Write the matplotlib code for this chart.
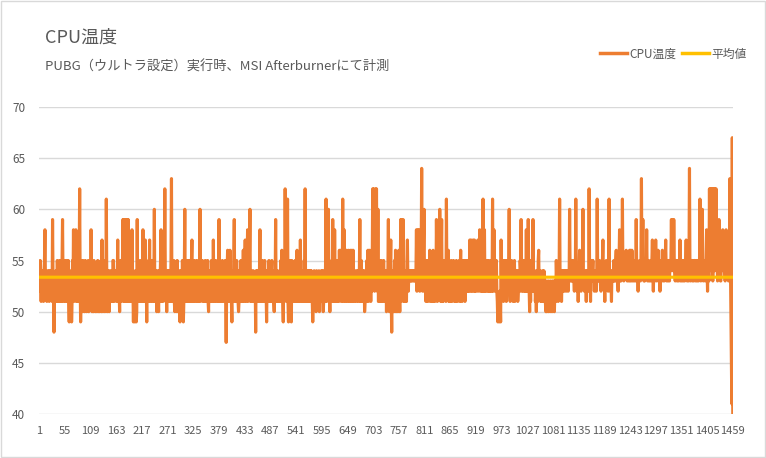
import matplotlib
matplotlib.use("Agg")
import matplotlib.pyplot as plt
from matplotlib.lines import Line2D
from matplotlib.patches import Rectangle

plt.rcParams['font.family'] = ['Noto Sans CJK JP', 'DejaVu Sans']

title = "CPU温度"
subtitle = "PUBG（ウルトラ設定）実行時、MSI Afterburnerにて計測"
series_name = "CPU温度"
mean_name = "平均値"

# CPU temperature samples (°C), one per logged interval
cpu_temp = [
    52, 53, 55, 52, 51, 52, 54, 53, 52, 51, 54, 55, 58, 53, 52, 54, 51, 52,
    53, 54, 52, 51, 54, 52, 53, 52, 54, 51, 59, 53, 52, 48, 52, 51, 51, 54,
    51, 51, 55, 52, 54, 51, 53, 55, 51, 53, 54, 51, 55, 59, 53, 51, 54, 55,
    52, 51, 51, 55, 54, 52, 51, 55, 51, 49, 53, 51, 50, 54, 49, 51, 55, 52,
    58, 51, 55, 57, 52, 58, 51, 56, 52, 51, 54, 51, 55, 62, 53, 49, 52, 55,
    50, 53, 55, 51, 54, 50, 52, 55, 51, 50, 54, 51, 53, 55, 50, 52, 54, 51,
    51, 58, 52, 50, 54, 53, 50, 55, 51, 53, 50, 54, 51, 50, 53, 55, 50, 52,
    54, 50, 53, 51, 55, 50, 57, 51, 50, 54, 51, 53, 50, 55, 51, 61, 53, 50,
    54, 51, 53, 50, 54, 52, 51, 51, 54, 52, 51, 55, 55, 52, 51, 54, 52, 53,
    54, 51, 53, 57, 51, 54, 52, 50, 54, 55, 51, 53, 54, 55, 59, 51, 59, 51,
    59, 55, 51, 59, 54, 59, 51, 59, 53, 51, 54, 55, 51, 53, 51, 58, 51, 52,
    49, 53, 51, 49, 54, 52, 49, 50, 59, 51, 51, 54, 52, 51, 55, 51, 53, 54,
    52, 51, 58, 51, 54, 52, 51, 57, 52, 53, 49, 54, 51, 51, 55, 52, 57, 51,
    51, 54, 52, 55, 51, 51, 54, 53, 60, 51, 54, 51, 53, 50, 54, 51, 51, 50,
    54, 51, 53, 55, 58, 51, 54, 51, 51, 54, 53, 55, 62, 54, 51, 53, 50, 54,
    51, 52, 54, 51, 54, 53, 51, 55, 63, 51, 51, 54, 52, 55, 51, 50, 54, 51,
    50, 53, 55, 50, 51, 54, 51, 53, 49, 54, 51, 53, 51, 55, 52, 49, 51, 54,
    60, 51, 52, 54, 55, 51, 53, 55, 51, 54, 51, 55, 53, 51, 55, 57, 51, 52,
    54, 51, 55, 52, 54, 51, 52, 55, 51, 52, 54, 51, 55, 52, 60, 51, 52, 54,
    53, 55, 51, 51, 54, 51, 51, 55, 52, 54, 51, 53, 55, 51, 50, 54, 51, 52,
    54, 51, 55, 52, 54, 51, 57, 52, 54, 51, 55, 52, 51, 54, 52, 55, 51, 52,
    59, 51, 54, 52, 51, 54, 51, 55, 52, 51, 54, 52, 53, 55, 51, 47, 52, 54,
    56, 51, 52, 54, 51, 56, 52, 51, 51, 49, 54, 51, 52, 55, 59, 51, 52, 54,
    51, 55, 52, 54, 51, 50, 51, 54, 52, 51, 55, 52, 54, 51, 52, 56, 51, 51,
    54, 57, 52, 51, 54, 55, 58, 51, 52, 54, 56, 60, 51, 52, 54, 51, 51, 52,
    54, 51, 52, 51, 53, 48, 54, 52, 51, 54, 51, 53, 51, 54, 58, 51, 55, 54,
    51, 55, 54, 51, 52, 54, 55, 51, 54, 52, 49, 53, 54, 51, 53, 55, 51, 54,
    51, 52, 54, 55, 51, 52, 54, 51, 50, 54, 53, 59, 51, 52, 54, 51, 52, 51,
    51, 54, 52, 51, 55, 52, 56, 51, 51, 49, 54, 51, 52, 62, 54, 52, 51, 51,
    61, 51, 49, 54, 52, 55, 51, 52, 49, 55, 51, 52, 51, 54, 51, 51, 55, 52,
    51, 51, 56, 51, 52, 54, 51, 55, 52, 57, 51, 54, 52, 53, 51, 54, 51, 55,
    53, 62, 51, 52, 51, 54, 51, 54, 52, 54, 51, 52, 54, 51, 54, 52, 51, 49,
    51, 52, 54, 51, 53, 51, 50, 54, 51, 51, 52, 53, 54, 50, 51, 52, 51, 54,
    51, 52, 54, 50, 51, 52, 54, 51, 55, 61, 51, 52, 54, 55, 60, 51, 52, 50,
    54, 51, 52, 55, 51, 59, 52, 54, 51, 58, 53, 51, 54, 51, 51, 55, 52, 54,
    51, 56, 52, 54, 56, 51, 56, 52, 61, 51, 54, 58, 52, 51, 54, 52, 56, 51,
    51, 54, 56, 52, 51, 51, 56, 53, 51, 56, 51, 54, 56, 52, 51, 51, 54, 53,
    52, 51, 54, 53, 54, 51, 53, 54, 59, 51, 52, 55, 51, 52, 54, 51, 52, 54,
    50, 51, 52, 54, 51, 55, 52, 56, 51, 54, 56, 52, 55, 51, 56, 52, 54, 62,
    53, 62, 54, 52, 55, 62, 53, 62, 54, 52, 60, 51, 51, 55, 52, 54, 51, 55,
    51, 52, 54, 51, 55, 52, 54, 51, 52, 54, 50, 53, 51, 54, 59, 51, 50, 52,
    54, 57, 51, 48, 52, 54, 50, 53, 51, 55, 50, 56, 51, 50, 54, 52, 50, 53,
    56, 52, 50, 54, 59, 51, 59, 52, 54, 59, 51, 52, 51, 51, 54, 53, 51, 55,
    57, 53, 52, 54, 53, 54, 53, 54, 53, 54, 53, 54, 54, 53, 54, 53, 54, 53,
    54, 58, 52, 56, 58, 53, 57, 58, 52, 55, 53, 56, 64, 55, 52, 53, 57, 60,
    52, 52, 54, 51, 55, 53, 54, 51, 55, 52, 53, 56, 51, 54, 52, 54, 51, 55,
    56, 51, 54, 52, 51, 54, 52, 59, 54, 51, 55, 52, 53, 52, 60, 54, 51, 55,
    59, 51, 54, 51, 54, 52, 55, 52, 54, 51, 61, 53, 52, 54, 56, 51, 52, 51,
    54, 51, 55, 52, 51, 54, 52, 55, 52, 51, 54, 51, 52, 55, 53, 51, 54, 52,
    52, 55, 51, 54, 56, 52, 51, 51, 55, 53, 55, 52, 54, 51, 55, 52, 54, 52,
    55, 52, 54, 52, 52, 57, 54, 52, 57, 55, 52, 53, 57, 52, 55, 57, 52, 54,
    52, 52, 54, 55, 57, 52, 54, 55, 58, 52, 53, 55, 52, 53, 52, 61, 54, 52,
    58, 52, 53, 55, 52, 54, 55, 52, 52, 55, 52, 52, 53, 52, 55, 53, 52, 61,
    52, 53, 58, 54, 52, 55, 54, 55, 52, 51, 49, 50, 51, 49, 52, 51, 49, 57,
    52, 54, 52, 55, 51, 54, 52, 55, 52, 54, 51, 55, 52, 54, 52, 55, 60, 52,
    51, 54, 52, 55, 52, 54, 51, 52, 54, 55, 51, 52, 54, 52, 52, 54, 51, 52,
    54, 52, 52, 55, 54, 59, 52, 52, 54, 55, 52, 55, 54, 52, 55, 52, 58, 52,
    54, 52, 59, 54, 52, 50, 54, 51, 55, 52, 54, 52, 59, 54, 52, 52, 54, 51,
    52, 50, 52, 54, 51, 55, 56, 52, 52, 54, 51, 52, 51, 52, 54, 52, 51, 54,
    53, 52, 51, 50, 50, 53, 51, 52, 50, 53, 52, 51, 50, 53, 51, 52, 50, 53,
    51, 52, 53, 50, 52, 53, 51, 55, 53, 52, 54, 51, 53, 54, 61, 53, 52, 54,
    51, 53, 54, 52, 54, 53, 52, 54, 53, 54, 52, 54, 53, 54, 52, 54, 53, 60,
    54, 53, 55, 53, 54, 53, 55, 54, 53, 52, 54, 53, 61, 54, 53, 52, 54, 51,
    53, 54, 56, 53, 54, 52, 55, 53, 54, 60, 53, 54, 52, 52, 54, 53, 51, 54,
    53, 54, 53, 52, 62, 54, 53, 51, 54, 53, 55, 54, 55, 53, 54, 52, 54, 53,
    54, 52, 53, 61, 54, 53, 54, 53, 55, 53, 54, 52, 54, 53, 55, 57, 53, 54,
    53, 51, 54, 53, 55, 53, 54, 53, 52, 54, 61, 53, 54, 52, 53, 51, 54, 53,
    54, 53, 55, 53, 54, 53, 55, 56, 53, 54, 53, 52, 54, 55, 58, 53, 54, 53,
    55, 54, 61, 54, 55, 53, 54, 55, 54, 55, 56, 54, 53, 55, 54, 53, 55, 56,
    53, 56, 54, 53, 56, 54, 53, 55, 54, 53, 55, 54, 53, 59, 54, 53, 54, 52,
    54, 53, 55, 54, 53, 55, 63, 54, 55, 59, 54, 53, 55, 53, 54, 55, 54, 58,
    54, 53, 55, 54, 53, 53, 54, 55, 53, 54, 55, 57, 54, 52, 54, 55, 53, 54,
    57, 54, 53, 55, 54, 56, 53, 54, 55, 52, 54, 53, 55, 54, 56, 53, 54, 55,
    53, 54, 55, 57, 54, 53, 54, 55, 53, 55, 54, 53, 55, 54, 55, 59, 54, 55,
    59, 54, 59, 55, 54, 53, 55, 55, 54, 53, 55, 54, 53, 55, 54, 57, 53, 54,
    55, 53, 55, 54, 53, 55, 54, 53, 54, 55, 57, 54, 53, 55, 54, 53, 55, 64,
    54, 53, 55, 55, 54, 53, 55, 54, 53, 55, 55, 54, 53, 55, 54, 53, 55, 54,
    53, 55, 54, 61, 54, 53, 55, 54, 60, 54, 53, 55, 54, 55, 53, 54, 55, 58,
    54, 52, 55, 54, 53, 62, 54, 62, 55, 62, 54, 62, 53, 62, 55, 62, 54, 62,
    55, 62, 54, 55, 53, 54, 55, 59, 54, 55, 53, 53, 55, 54, 55, 58, 54, 55,
    55, 54, 53, 55, 58, 54, 55, 55, 54, 53, 55, 54, 63, 55, 50, 45, 41, 67,
    40,
]

sample_no = list(range(1, len(cpu_temp) + 1))
mean_temp = sum(cpu_temp) / len(cpu_temp)
mean_line = [mean_temp] * len(cpu_temp)

y_ticks = [40, 45, 50, 55, 60, 65, 70]
tick_step = 54

ORANGE = "#ED7D31"
GOLD = "#FFC000"
GRID = "#D9D9D9"
TEXT = "#595959"

fig = plt.figure(figsize=(7.66, 4.58), dpi=100)
fig.patch.set_facecolor("white")
fig.patches.append(Rectangle((0.0015, 0.002), 0.997, 0.995, transform=fig.transFigure,
                             fill=False, edgecolor=GRID, linewidth=1.0))

ax = fig.add_axes([39 / 766, 1 - 414 / 458, (733 - 39) / 766, (414 - 107) / 458])
ax.plot(sample_no, cpu_temp, color=ORANGE, linewidth=2.25, solid_joinstyle="round", zorder=3)
ax.plot(sample_no, mean_line, color=GOLD, linewidth=2.25, zorder=4)

ax.set_ylim(40, 70)
ax.set_xlim(0.5, len(cpu_temp) + 0.5)
ax.set_yticks(y_ticks)
ax.set_xticks(sample_no[::tick_step])
ax.set_xticklabels([str(v) for v in sample_no[::tick_step]])
ax.grid(axis="y", color=GRID, linewidth=1.0)
ax.set_axisbelow(True)
for s in ax.spines.values():
    s.set_visible(False)
ax.tick_params(axis="both", length=0, colors=TEXT)
ax.tick_params(axis="y", pad=10, labelsize=8.5)
ax.tick_params(axis="x", pad=9, labelsize=8)

fig.text(45 / 766, 1 - 38 / 458, title, fontsize=13, color=TEXT, va="center", ha="left")
fig.text(45 / 766, 1 - 67 / 458, subtitle, fontsize=9.5, color=TEXT, va="center", ha="left")

handles = [Line2D([], [], color=ORANGE, linewidth=2.5),
           Line2D([], [], color=GOLD, linewidth=2.5)]
fig.legend(handles, [series_name, mean_name], loc="center right",
           bbox_to_anchor=(747 / 766, 1 - 54 / 458), ncol=2, frameon=False,
           fontsize=8.5, handlelength=2.3, handletextpad=0.2, columnspacing=0.5,
           labelcolor=TEXT, borderpad=0, borderaxespad=0)

fig.savefig("out.png", dpi=100, facecolor="white")
